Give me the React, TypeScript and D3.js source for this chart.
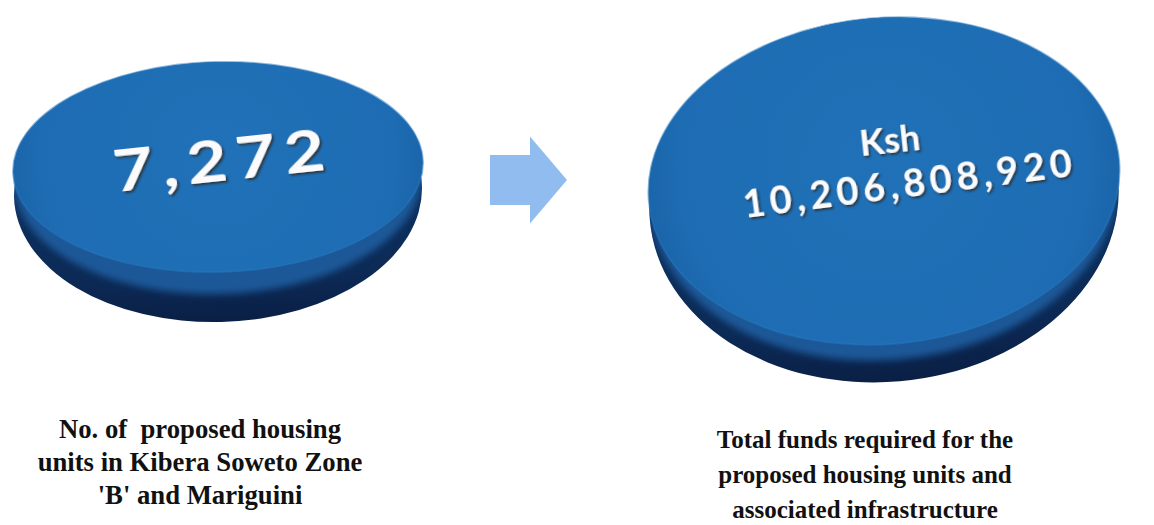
import React from "react";
import * as d3 from "d3";

// ---- data ----
const values = [7272, 10206808920];
const prefixes = ["", "Ksh"];
const captionsLeft = ["No. of  proposed housing", "units in Kibera Soweto Zone", "'B' and Mariguini"];
const captionsRight = ["Total funds required for the", "proposed housing units and", "associated infrastructure"];

const W = 1154;
const H = 525;
const fmt = d3.format(",");

type Disc = { cx: number; cy: number; rx: number; ry: number; dark: number; mid: number; rot: number; id: string };

const discs: Disc[] = [
  { cx: 218, cy: 167, rx: 205, ry: 105, dark: 25, mid: 11, rot: -1.5, id: "a" },
  { cx: 884, cy: 181, rx: 236, ry: 163, dark: 19, mid: 8, rot: -5, id: "b" },
];

function DiscShape({ d }: { d: Disc }) {
  const bottom = d.cy + d.ry + 2 * d.dark;
  const darkEl = (props: any) => (
    <ellipse
      cx={d.cx}
      cy={d.cy + d.dark}
      rx={d.rx - 1}
      ry={d.ry + d.dark}
      transform={`rotate(${d.rot},${d.cx},${d.cy + d.dark})`}
      {...props}
    />
  );
  return (
    <g>
      <defs>
        <linearGradient id={`side-${d.id}`} gradientUnits="userSpaceOnUse" x1={0} y1={d.cy} x2={0} y2={bottom}>
          <stop offset="0" stopColor="#0e315f" />
          <stop offset="0.7" stopColor="#0c2a56" />
          <stop offset="1" stopColor="#0a1f45" />
        </linearGradient>
        <radialGradient id={`face-${d.id}`} gradientUnits="userSpaceOnUse" cx={d.cx} cy={d.cy - d.ry * 0.1} r={Math.max(d.rx, d.ry)}>
          <stop offset="0" stopColor="#2071b7" />
          <stop offset="0.85" stopColor="#1e6db4" />
          <stop offset="1" stopColor="#1b65aa" />
        </radialGradient>
        <clipPath id={`clip-${d.id}`}>{darkEl({})}</clipPath>
        <filter id={`blur-${d.id}`} x="-10%" y="-10%" width="120%" height="120%">
          <feGaussianBlur stdDeviation={3.5} />
        </filter>
      </defs>
      {darkEl({ fill: `url(#side-${d.id})` })}
      <g clipPath={`url(#clip-${d.id})`}>
        <ellipse
          cx={d.cx}
          cy={d.cy + d.mid}
          rx={d.rx - 1}
          ry={d.ry + d.mid}
          transform={`rotate(${d.rot},${d.cx},${d.cy + d.mid})`}
          fill="#1a5898"
          filter={`url(#blur-${d.id})`}
        />
      </g>
      <ellipse
        cx={d.cx}
        cy={d.cy}
        rx={d.rx}
        ry={d.ry}
        transform={`rotate(${d.rot},${d.cx},${d.cy})`}
        fill={`url(#face-${d.id})`}
        stroke="#2677bd"
        strokeWidth={2}
        strokeOpacity={0.5}
      />
    </g>
  );
}

export default function App() {
  const valueFont = "Lato, 'Open Sans', 'DejaVu Sans', sans-serif";
  const capFont = "'Liberation Serif', 'Times New Roman', serif";
  // arrow geometry
  const ax = 490, ay = 180, bodyW = 40, bodyH = 50, headW = 37, headH = 87;
  const arrow = d3.line()([
    [ax, ay - bodyH / 2],
    [ax + bodyW, ay - bodyH / 2],
    [ax + bodyW, ay - headH / 2],
    [ax + bodyW + headW, ay],
    [ax + bodyW, ay + headH / 2],
    [ax + bodyW, ay + bodyH / 2],
    [ax, ay + bodyH / 2],
  ] as [number, number][]) + "Z";

  return (
    <svg width={W} height={H} style={{ position: "absolute", left: 0, top: 0, background: "#fff" }}>
      <defs>
        <filter id="emboss" x="-10%" y="-30%" width="120%" height="160%">
          <feDropShadow dx={1.5} dy={2} stdDeviation={1} floodColor="#2b2b2b" floodOpacity={0.85} />
        </filter>
      </defs>
      <rect width={W} height={H} fill="#fff" />
      {discs.map((d) => (
        <DiscShape key={d.id} d={d} />
      ))}
      <path d={arrow} fill="#91bcef" />

      {/* left value */}
      <g transform="translate(221,181) rotate(-6) scale(1.2,1)">
        <text
          x={0}
          y={0}
          textAnchor="middle"
          fontFamily={valueFont}
          fontWeight={700}
          fontSize={58}
          fill="#fbfbfd"
          filter="url(#emboss)"
          textLength={177}
          lengthAdjust="spacing"
        >
          {fmt(values[0])}
        </text>
      </g>
      {/* right value */}
      <text
        x={891}
        y={153}
        transform="rotate(-6,891,153)"
        textAnchor="middle"
        fontFamily={valueFont}
        fontWeight={700}
        fontSize={36}
        fill="#fbfbfd"
        filter="url(#emboss)"
      >
        {prefixes[1]}
      </text>
      <text
        x={909}
        y={197}
        transform="rotate(-7.3,909,197)"
        textAnchor="middle"
        fontFamily={valueFont}
        fontWeight={700}
        fontSize={38}
        fill="#fbfbfd"
        filter="url(#emboss)"
        textLength={331}
        lengthAdjust="spacing"
      >
        {fmt(values[1])}
      </text>

      {/* captions */}
      <text fontFamily={capFont} fontWeight={700} fontSize={26.7} fill="#111" textAnchor="middle" style={{ whiteSpace: "pre" }}>
        {captionsLeft.map((t, i) => (
          <tspan key={i} x={200} y={438 + i * 33}>
            {t}
          </tspan>
        ))}
      </text>
      <text fontFamily={capFont} fontWeight={700} fontSize={25} fill="#111" textAnchor="middle" style={{ whiteSpace: "pre" }}>
        {captionsRight.map((t, i) => (
          <tspan key={i} x={865} y={448 + i * 35}>
            {t}
          </tspan>
        ))}
      </text>
    </svg>
  );
}
